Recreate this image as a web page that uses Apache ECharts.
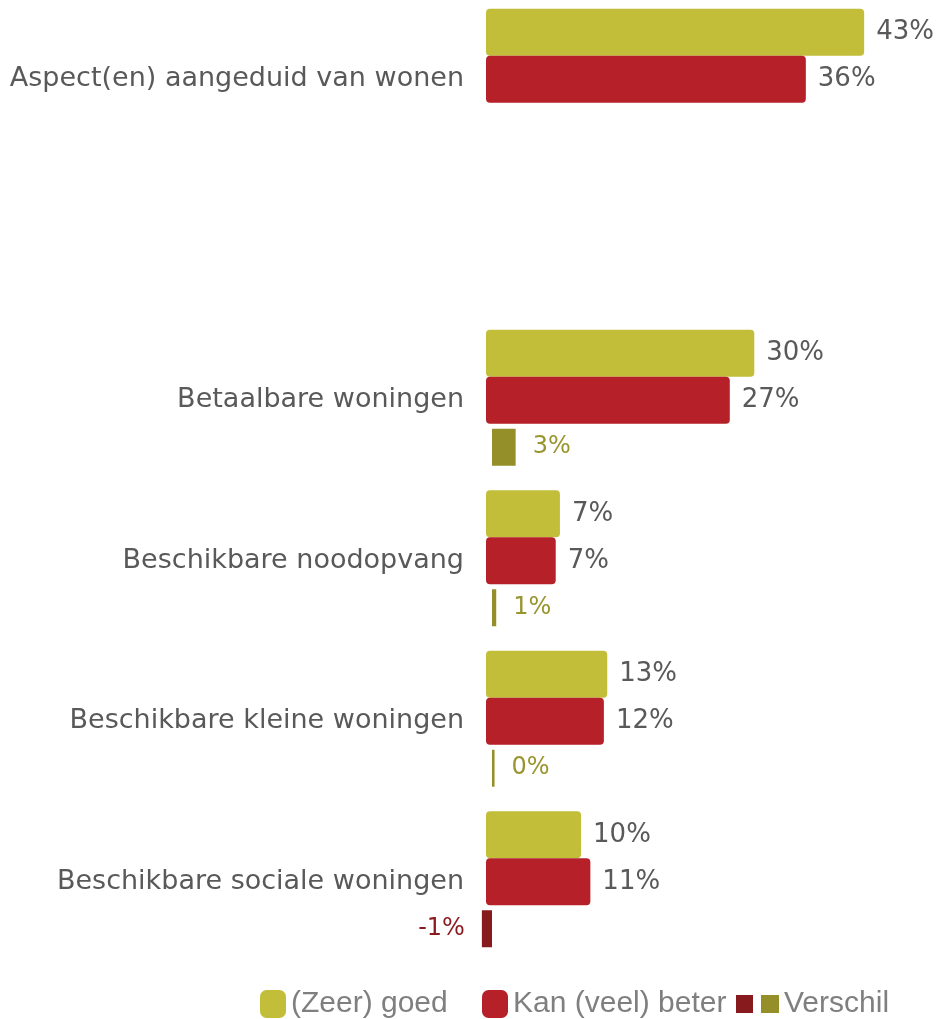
<!DOCTYPE html>
<html>
<head>
<meta charset="utf-8">
<script src="https://cdn.jsdelivr.net/npm/echarts@6/dist/echarts.min.js"></script>
<style>
    html, body { margin: 0; padding: 0; background: #fff; }
    #main { width: 941px; height: 1019px; }
</style>
</head>
<body>
<div id="main"></div>
<script>
// categories (empty one keeps the gap under the first row)
var categories = ['Aspect(en) aangeduid van wonen', '', 'Betaalbare woningen', 'Beschikbare noodopvang',
    'Beschikbare kleine woningen', 'Beschikbare sociale woningen'];
// percentages
var goed = [43.0, null, 30.0, 7.0, 12.6, 9.5];
var beter = [36.1, null, 27.1, 6.5, 12.2, 10.6];
var verschil = [null, null, 2.8, 0.5, 0.3, -1.2];

var seriesNames = ['(Zeer) goed', 'Kan (veel) beter', 'Verschil'];

var GOED_COLOR = '#c2be3a';
var BETER_COLOR = '#b52029';
var PLUS_COLOR = '#948f29';
var MIN_COLOR = '#861a1d';
var TEXT_COLOR = '#595959';

var chart = echarts.init(document.getElementById('main'));

var pct = function (p) {
    return Math.round(p.value) + '%';
};

var valueLabel = {
    show: true,
    position: 'right',
    distance: 12,
    formatter: pct,
    color: TEXT_COLOR,
    fontFamily: 'DejaVu Sans',
    fontSize: 26
};

var verschilData = verschil.map(function (v) {
    if (v == null) {
        return null;
    }
    return {
        value: v,
        itemStyle: { color: v < 0 ? MIN_COLOR : PLUS_COLOR },
        label: {
            position: v < 0 ? 'left' : 'right',
            color: v < 0 ? '#8b1a1f' : '#99952e'
        }
    };
});

var verschilIcon = 'image://data:image/svg+xml;utf8,' + encodeURIComponent(
    '<svg xmlns="http://www.w3.org/2000/svg" width="43" height="18" viewBox="0 0 43 18">' +
    '<rect x="0" y="0" width="17" height="18" fill="' + MIN_COLOR + '"/>' +
    '<rect x="25" y="0" width="18" height="18" fill="' + PLUS_COLOR + '"/></svg>');

var legendText = {
    fontFamily: 'Liberation Sans',
    fontSize: 30,
    color: '#7f7f7f'
};

chart.setOption({
    animation: false,
    grid: {
        left: 486,
        top: -1,
        width: 422.5,
        height: 963,
        outerBoundsMode: 'none',
        containLabel: false
    },
    legend: [{
        data: [seriesNames[0]],
        left: 260,
        top: 989,
        padding: 0,
        icon: 'roundRect',
        itemWidth: 26,
        itemHeight: 28,
        textStyle: legendText
    }, {
        data: [seriesNames[1]],
        left: 482,
        top: 989,
        padding: 0,
        icon: 'roundRect',
        itemWidth: 26,
        itemHeight: 28,
        textStyle: legendText
    }, {
        data: [{ name: seriesNames[2], icon: verschilIcon }],
        left: 736,
        top: 989,
        padding: 0,
        itemWidth: 43,
        itemHeight: 18,
        textStyle: legendText
    }],
    xAxis: [{
        type: 'value',
        min: -1.75,
        max: 48.25,
        startValue: -1.75,
        show: false
    }, {
        type: 'value',
        min: -0.71,
        max: 49.29,
        show: false
    }],
    yAxis: {
        type: 'category',
        inverse: true,
        data: categories,
        axisLine: { show: false },
        axisTick: { show: false },
        splitLine: { show: false },
        axisLabel: {
            margin: 22,
            color: TEXT_COLOR,
            fontFamily: 'DejaVu Sans',
            fontSize: 27
        }
    },
    series: [{
        name: seriesNames[0],
        type: 'bar',
        xAxisIndex: 0,
        barWidth: 47,
        barGap: 0,
        data: goed,
        itemStyle: { color: GOED_COLOR, borderRadius: 4 },
        label: valueLabel
    }, {
        name: seriesNames[1],
        type: 'bar',
        xAxisIndex: 0,
        barWidth: 47,
        barGap: 0,
        data: beter,
        itemStyle: { color: BETER_COLOR, borderRadius: 4 },
        label: valueLabel
    }, {
        // empty slot so the difference bar sits in the middle of its band
        name: 'gap1',
        type: 'bar',
        xAxisIndex: 1,
        barWidth: 5,
        barGap: 0,
        silent: true,
        data: []
    }, {
        name: seriesNames[2],
        type: 'bar',
        xAxisIndex: 1,
        barWidth: 37,
        barGap: 0,
        clip: false,
        data: verschilData,
        itemStyle: { color: PLUS_COLOR },
        label: {
            show: true,
            distance: 17,
            formatter: pct,
            fontFamily: 'DejaVu Sans',
            fontSize: 24
        }
    }, {
        name: 'gap2',
        type: 'bar',
        xAxisIndex: 1,
        barWidth: 5,
        barGap: 0,
        silent: true,
        data: []
    }]
});
</script>
</body>
</html>
